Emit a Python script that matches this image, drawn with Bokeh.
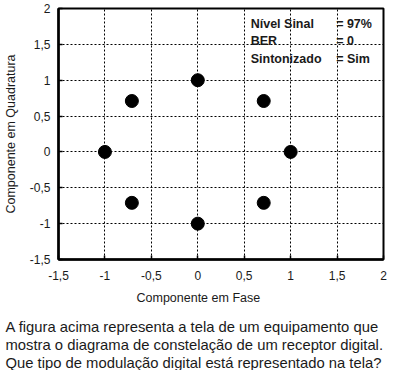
from bokeh.plotting import figure
from bokeh.models import (Range1d, FixedTicker, CustomJSTickFormatter, Title,
                          ColumnDataSource)
from bokeh.core.properties import value
from bokeh.embed import file_html
from bokeh.resources import INLINE

# data: 8-PSK constellation (in-phase / quadrature components)
i_comp = [1, 0.71, 0, -0.71, -1, -0.71, 0, 0.71]
q_comp = [0, 0.71, 1, 0.71, 0, -0.71, -1, -0.71]

x_ticks = [-1.5, -1, -0.5, 0, 0.5, 1, 1.5, 2]
y_ticks = [-1.5, -1, -0.5, 0, 0.5, 1, 1.5, 2]

info_names = ["Nível Sinal", "BER", "Sintonizado"]
info_values = ["= 97%", "= 0", "= Sim"]
info_rows = [1.79, 1.55, 1.30]

x_label = "Componente em Fase"
y_label = "Componente em Quadratura"
paragraph = [
    "A figura acima representa a tela de um equipamento que",
    "mostra o diagrama de constelação de um receptor digital.",
    "Que tipo de modulação digital está representado na tela?",
]

FONT = "Liberation Sans"
INK = "#1a1a1a"

p = figure(width=388, height=370, output_backend="svg", toolbar_location=None,
           x_range=Range1d(-1.5, 2), y_range=Range1d(-1.5, 2),
           min_border_left=54, min_border_right=5, min_border_top=8,
           min_border_bottom=0)
p.background_fill_color = "white"
p.border_fill_color = "white"
p.outline_line_color = "black"
p.outline_line_width = 2

fmt = CustomJSTickFormatter(code="return tick.toString().replace('.', ',');")

for ax, ticks in ((p.xaxis[0], x_ticks), (p.yaxis[0], y_ticks)):
    ax.ticker = FixedTicker(ticks=ticks)
    ax.formatter = fmt
    ax.axis_line_width = 2.5
    ax.axis_line_color = "black"
    ax.major_tick_in = 4
    ax.major_tick_out = 0
    ax.major_tick_line_width = 1.5
    ax.minor_tick_line_color = None
    ax.major_label_text_font = FONT
    ax.major_label_text_font_size = "12px"
    ax.major_label_text_color = INK
    ax.major_label_standoff = 8
p.xaxis[0].major_label_standoff = 11

p.yaxis[0].axis_label = y_label
p.yaxis[0].axis_label_text_font = FONT
p.yaxis[0].axis_label_text_font_size = "12.5px"
p.yaxis[0].axis_label_text_font_style = "normal"
p.yaxis[0].axis_label_text_color = INK
p.yaxis[0].axis_label_standoff = 9

for g, ticks in ((p.xgrid[0], x_ticks), (p.ygrid[0], y_ticks)):
    g.ticker = FixedTicker(ticks=ticks)
    g.grid_line_color = "black"
    g.grid_line_width = 1
    g.grid_line_dash = "2 2"

p.scatter(x=i_comp, y=q_comp, size=13, color="black")

src = ColumnDataSource(dict(name=info_names, val=info_values, y=info_rows))
p.text(x=0.57, y="y", text="name", source=src, text_font=value(FONT),
       text_font_size="12.5px", text_font_style="bold", text_baseline="middle",
       text_color=INK)
p.text(x=1.49, y="y", text="val", source=src, text_font=value(FONT),
       text_font_size="12.5px", text_font_style="bold", text_baseline="middle",
       text_color=INK)

# x axis label (centred on x = 0 like the reference)
p.add_layout(Title(text=x_label, align="left", offset=78, standoff=12,
                   text_font=FONT, text_font_size="12.5px",
                   text_font_style="normal", text_color=INK), "below")
# small spacer between axis label and the paragraph
p.add_layout(Title(text=" ", align="left", standoff=2,
                   text_font=FONT, text_font_size="2px",
                   text_font_style="normal"), "below")
# paragraph lines
for line in paragraph:
    p.add_layout(Title(text=line, align="left", offset=-53, standoff=0,
                       text_font=FONT, text_font_size="14.8px",
                       text_font_style="normal", text_color=INK), "below")

open("out.html", "w").write(file_html(p, INLINE))
